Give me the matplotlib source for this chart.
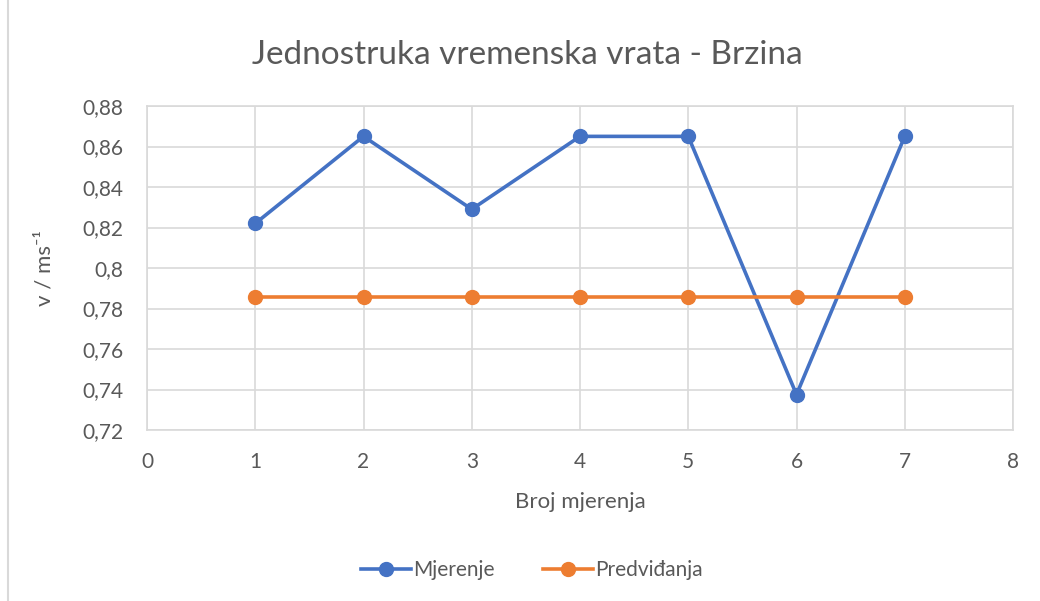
import matplotlib.pyplot as plt
from matplotlib.ticker import FuncFormatter
from matplotlib.lines import Line2D

plt.rcParams['font.family'] = ['Lato', 'DejaVu Sans']

x = [1, 2, 3, 4, 5, 6, 7]
mjerenje = [0.822, 0.865, 0.829, 0.865, 0.865, 0.7375, 0.865]
predvidanja = [0.7855, 0.7855, 0.7855, 0.7855, 0.7855, 0.7855, 0.7855]
xticks = [0, 1, 2, 3, 4, 5, 6, 7, 8]
yticks = [0.72, 0.74, 0.76, 0.78, 0.80, 0.82, 0.84, 0.86, 0.88]

txt = '#595959'
grid = '#d9d9d9'

fig = plt.figure(figsize=(10.4, 6.01), dpi=100)
ax = fig.add_axes([147 / 1040, 1 - 430 / 601, (1013 - 147) / 1040, (430 - 106) / 601])

ax.plot(x, mjerenje, color='#4472C4', linewidth=2.6, marker='o', markersize=10, label='Mjerenje')
ax.plot(x, predvidanja, color='#ED7D31', linewidth=2.6, marker='o', markersize=10, label='Predviđanja')

ax.set_xlim(0, 8)
ax.set_ylim(0.72, 0.88)
ax.set_xticks(xticks)
ax.set_yticks(yticks)
ax.yaxis.set_major_formatter(FuncFormatter(lambda v, p: ('%.2f' % v).rstrip('0').replace('.', ',')))
ax.grid(True, color=grid, linewidth=1.2)
ax.set_axisbelow(True)
for s in ax.spines.values():
    s.set_color(grid)
    s.set_linewidth(1.2)
ax.tick_params(length=0, labelsize=15, colors=txt)
ax.tick_params(axis='y', pad=17)
ax.tick_params(axis='x', pad=16)

fig.text(527 / 1040, 1 - 55 / 601, 'Jednostruka vremenska vrata - Brzina', fontsize=24,
         color=txt, ha='center', va='center')
ax.set_xlabel('Broj mjerenja', fontsize=16, color=txt, labelpad=14)
ax.set_ylabel('v / ms⁻¹', fontsize=16, color=txt, labelpad=20)

fig.legend(loc='center', bbox_to_anchor=(532 / 1040, 1 - 570 / 601), ncol=2, frameon=False,
           fontsize=15, labelcolor=txt, handlelength=2.4, columnspacing=2.3, handletextpad=0.1)

fig.add_artist(Line2D([8 / 1040, 8 / 1040], [0, 1], color=grid, linewidth=1.5, transform=fig.transFigure))

fig.savefig('out.png', dpi=100)
